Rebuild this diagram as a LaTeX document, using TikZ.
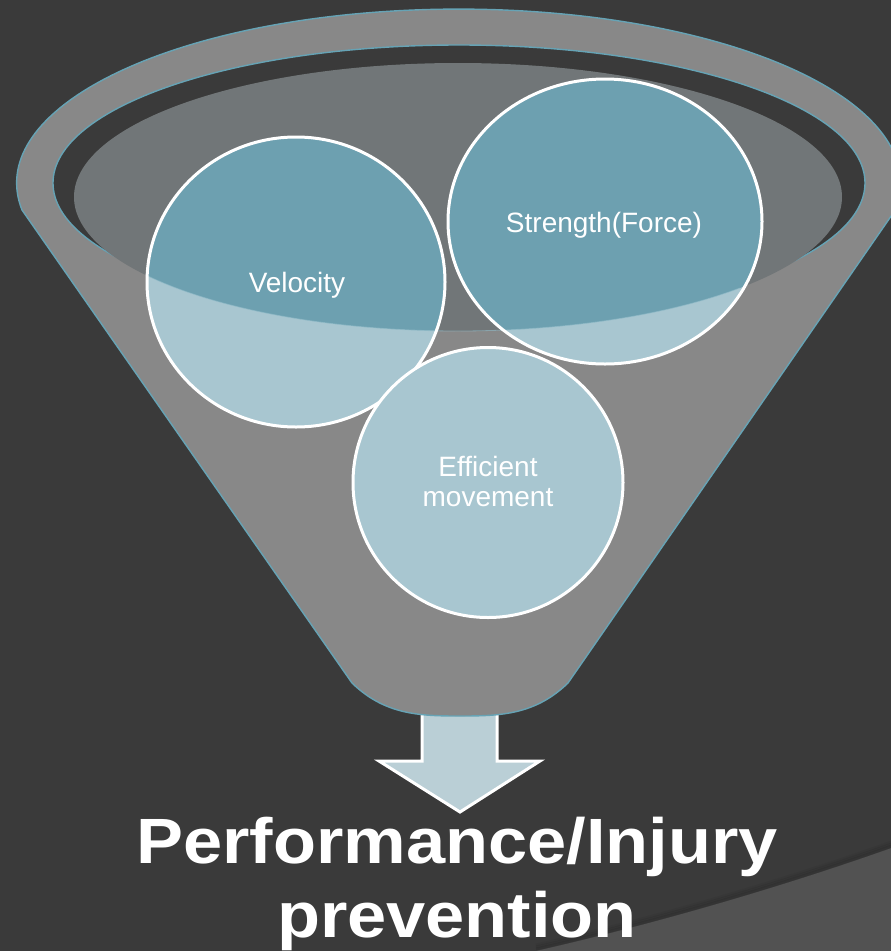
\documentclass[tikz,border=0pt]{standalone}
\usepackage{fontspec}
\setmainfont{Liberation Sans}
\definecolor{bg}{HTML}{3A3A3A}
\definecolor{panel}{HTML}{525252}
\definecolor{funnelgray}{HTML}{888888}
\definecolor{rimteal}{HTML}{66A3B5}
\definecolor{surface}{HTML}{717678}
\definecolor{ballLight}{HTML}{A8C6D0}
\definecolor{ballDeep}{HTML}{6DA0B0}
\definecolor{arrowfill}{HTML}{BACFD6}
\begin{document}
\begin{tikzpicture}[x=1pt,y=-1pt,
  rim/.style={draw=rimteal, line width=1.4pt},
  ballrim/.style={draw=white, line width=3pt},
  lbl/.style={text=white, font=\fontsize{28}{29.5}\selectfont, align=center, inner sep=0pt},
  title/.style={text=white, font=\bfseries\fontsize{64}{74}\selectfont, inner sep=0pt, anchor=base}]

\useasboundingbox (0,0) rectangle (891,951);
\fill[bg] (0,0) rectangle (891,951);
\begin{scope}
\clip (0,0) rectangle (891,951);

% lighter corner panel with a soft shadow along its edge
\foreach \s/\o in {6/0.04,4/0.06,2/0.09}{
  \draw[black, opacity=\o, line width=3pt, yshift=\s pt]
    (536,951) .. controls (650,925) and (780,888) .. (900,845);
}
\fill[panel] (536,951) .. controls (650,925) and (780,888) .. (900,845)
  -- (900,960) -- (530,960) -- cycle;

% output arrow below the funnel
\draw[ballrim, fill=arrowfill, line join=miter]
  (422,713) -- (497,713) -- (497,761) -- (540,761) -- (460,812)
  -- (379,761) -- (422,761) -- cycle;

% funnel body
\path[fill=funnelgray, rim]
  (22,210) arc[start angle=171.1, end angle=368.9, x radius=442, y radius=174]
  -- (568,683) .. controls (535,715) and (500,716) .. (460,716)
  .. controls (420,716) and (385,715) .. (352,683) -- cycle;

% funnel mouth and liquid surface
\path[fill=bg, rim] (459,183) ellipse [x radius=406, y radius=138];
\fill[surface] (458,197) ellipse [x radius=384, y radius=134];

% balls: light fill, deeper tone where they sit inside the surface
\fill[ballLight] (296,282) ellipse [x radius=149, y radius=145];
\fill[ballLight] (605,221.5) ellipse [x radius=157, y radius=142.5];
\begin{scope}
  \clip (458,197) ellipse [x radius=384, y radius=134];
  \fill[ballDeep] (296,282) ellipse [x radius=149, y radius=145];
  \fill[ballDeep] (605,221.5) ellipse [x radius=157, y radius=142.5];
\end{scope}
\draw[rimteal!70!white, opacity=0.6, line width=0.8pt]
  (458,197) ++(144.1:384 and 134) arc[start angle=144.1, end angle=42.8, x radius=384, y radius=134];
\draw[ballrim] (296,282) ellipse [x radius=149, y radius=145];
\draw[ballrim] (605,221.5) ellipse [x radius=157, y radius=142.5];
\path[fill=ballLight, ballrim] (488,482.5) circle [radius=135];
\end{scope}

% labels
\node[lbl, anchor=base] (velocity) at (297,292) {Velocity};
\node[lbl, anchor=base] (strength) at (604,232) {Strength(Force)};
\node[lbl] (efficient) at (488,481.3) {Efficient\\movement};

\node[title] (title1) at (457,863) {\scalebox{1.1}[1]{Performance/Injury}};
\node[title] (title2) at (457,937) {\scalebox{1.1}[1]{prevention}};
\end{tikzpicture}
\end{document}
